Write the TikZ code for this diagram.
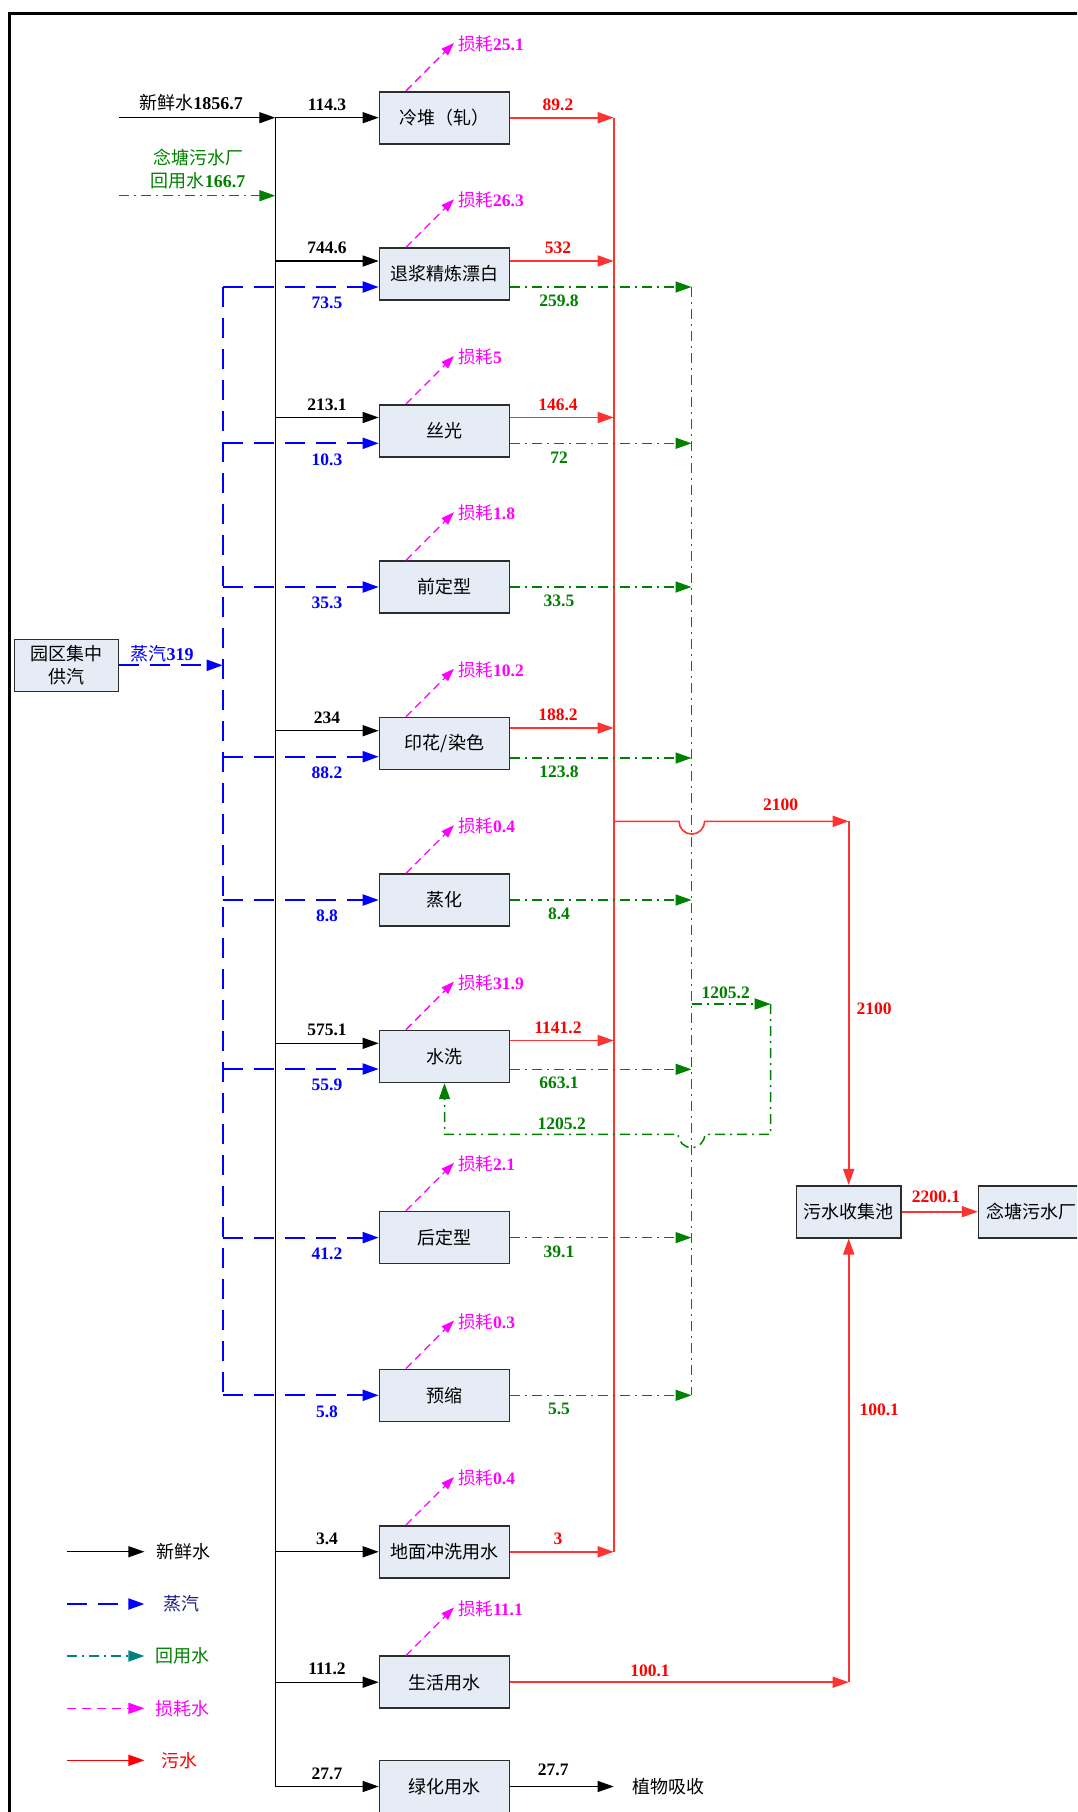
\documentclass[tikz,border=0pt]{standalone}
\usepackage{fontspec}
\setmainfont{Liberation Serif}
\newfontfamily\cjk{Noto Sans CJK SC}
\usetikzlibrary{arrows.meta,calc}
\definecolor{rd}{RGB}{255,0,0}
\definecolor{rl}{RGB}{255,50,50}
\definecolor{gr}{RGB}{0,128,0}
\definecolor{bl}{RGB}{0,0,255}
\definecolor{lbl}{RGB}{60,60,255}
\definecolor{mg}{RGB}{255,0,255}
\definecolor{tl}{RGB}{0,128,128}
\definecolor{nv}{RGB}{30,30,140}
\definecolor{bxf}{RGB}{230,236,246}
\definecolor{bxd}{RGB}{45,45,45}
\tikzset{
  tip/.style={-{Triangle[length=16pt,width=11pt]}},
  box/.style={draw=bxd, fill=bxf, line width=1.6pt, minimum width=130pt, minimum height=52pt, inner sep=0pt, align=center, font=\cjk\fontsize{18}{23}\selectfont},
  fw/.style={draw=black, line width=1.3pt, tip},
  st/.style={draw=bl, line width=2pt, dash pattern=on 20pt off 11pt, tip},
  rc/.style={draw=gr, line width=1.5pt, dash pattern=on 10pt off 5pt on 2pt off 5pt, tip},
  ww/.style={draw=rl, line width=1.6pt, tip},
  ls/.style={draw=mg, line width=1.3pt, dash pattern=on 8pt off 5pt, -{Triangle[length=13pt,width=9pt]}},
  num/.style={font=\bfseries\fontsize{17.5}{19}\selectfont},
  cn/.style={font=\cjk\fontsize{18}{22}\selectfont},
}
\newcommand{\lossl}[1]{{\cjk 损耗}\textbf{#1}}
\begin{document}
\begin{tikzpicture}[x=1pt,y=-1pt]
\useasboundingbox (0,0) rectangle (1077,1812);
\clip (0,0) rectangle (1077,1812);
% frame
\coordinate (fr1) at (9.6,1830);
\coordinate (fr2) at (9.6,13.3);
\coordinate (fr3) at (1100,13.3);
\draw[line width=3pt] (fr1) -- (fr2) -- (fr3);

% process boxes
\node[box] (b1) at (444.5,117.7) {冷堆（轧）};
\node[box] (b2) at (444.5,274.0) {退浆精炼漂白};
\node[box] (b3) at (444.5,430.8) {丝光};
\node[box] (b4) at (444.5,587.0) {前定型};
\node[box] (b5) at (444.5,743.5) {印花/染色};
\node[box] (b6) at (444.5,900.0) {蒸化};
\node[box] (b7) at (444.5,1056.4) {水洗};
\node[box] (b8) at (444.5,1237.6) {后定型};
\node[box] (b9) at (444.5,1395.3) {预缩};
\node[box] (b10) at (444.5,1551.8) {地面冲洗用水};
\node[box] (b11) at (444.5,1682.2) {生活用水};
\node[box] (b12) at (444.5,1786.5) {绿化用水};
\node[box, minimum width=104pt] (s) at (66.3,665.3) {园区集中\\供汽};
\node[box, minimum width=104.7pt] (p) at (848.7,1211.7) {污水收集池};
\node[box, minimum width=104.7pt] (n) at (1031,1211.7) {念塘污水厂};

% fresh water trunk
\coordinate (ttop) at (275.3,117.7);
\coordinate (tbot) at (275.3,1786.5);
\coordinate (fwin) at (119,117.7);
\draw[line width=1.3pt] (ttop) -- (tbot);
\draw[fw] (fwin) -- (ttop);
\draw[fw] (ttop) -- (b1.west);
\node[font=\fontsize{18}{20}\selectfont] (fwl) at (191,102.3) {{\cjk 新鲜水}\textbf{1856.7}};
% recycled input
\coordinate (rwin) at (119,195.7);
\coordinate (rwend) at (275.3,195.7);
\draw[rc] (rwin) -- (rwend);
\node[text=gr, font=\fontsize{18}{20}\selectfont] (rwl1) at (198,157.3) {\cjk 念塘污水厂};
\node[text=gr, font=\fontsize{18}{20}\selectfont] (rwl2) at (198,180.7) {{\cjk 回用水}\textbf{166.7}};

% black branches
\foreach \b/\y/\v in {b2/261/744.6, b3/417.5/213.1, b5/730.7/234, b7/1043.3/575.1, b10/1551.8/3.4, b11/1682.2/111.2, b12/1786.5/27.7}{
  \coordinate (k\b) at (275.3,\y);
  \draw[fw] (k\b) -- (k\b -| \b.west);
  \node[num] (kl\b) at (327,\y-13) {\v};
}
\node[num] (klb1) at (327,104.7) {114.3};

% steam
\coordinate (stop) at (222.7,287);
\coordinate (sbot) at (222.7,1395.3);
\coordinate (sin) at (222.7,665.3);
\draw[st,-] (stop) -- (sbot);
\draw[st] (s.east) -- (sin);
\node[text=bl, font=\fontsize{18}{20}\selectfont] (sl) at (162,654) {{\cjk 蒸汽}\textbf{319}};
\foreach \b/\y/\v in {b2/287/73.5, b3/443.3/10.3, b4/587/35.3, b5/756.7/88.2, b6/900/8.8, b7/1069/55.9, b8/1237.6/41.2, b9/1395.3/5.8}{
  \coordinate (s\b) at (222.7,\y);
  \draw[st] (s\b) -- (s\b -| \b.west);
  \node[num, text=bl] (sl\b) at (327,\y+16) {\v};
}

% waste water collector
\coordinate (rtop) at (613.7,117.7);
\coordinate (rbot) at (613.7,1551.8);
\draw[draw=rl, line width=1.6pt] (rtop) -- (rbot);
\foreach \b/\y/\v in {b1/117.7/89.2, b2/261/532, b3/417.5/146.4, b5/728/188.2, b7/1040.5/1141.2, b10/1551.8/3}{
  \coordinate (r\b) at (613.7,\y);
  \draw[ww] (r\b -| \b.east) -- (r\b);
  \node[num, text=rd] (rl\b) at (558,\y-13) {\v};
}

% recycled collector
\coordinate (gtop) at (691.5,287);
\coordinate (gbot) at (691.5,1395.3);
\draw[draw=gr, line width=1.5pt, dash pattern=on 10pt off 5pt on 2pt off 5pt] (gtop) -- (gbot);
\foreach \b/\y/\v in {b2/287/259.8, b3/443.3/72, b4/587/33.5, b5/758/123.8, b6/900/8.4, b7/1069.3/663.1, b8/1237.6/39.1, b9/1395.3/5.5}{
  \coordinate (g\b) at (691.5,\y);
  \draw[rc] (g\b -| \b.east) -- (g\b);
  \node[num, text=gr] (gl\b) at (559,\y+14) {\v};
}

% 2100 line with jump
\coordinate (r21a) at (613.7,821.3);
\coordinate (r21b) at (848.7,821.3);
\draw[ww] (r21a) -- (679,821.3) arc[start angle=180, end angle=0, radius=12.8] -- (r21b);
\draw[ww] (r21b) -- (p.north);
\node[num, text=rd] (l21a) at (780.7,805) {2100};
\node[num, text=rd] (l21b) at (874,1009) {2100};

% loop 1205.2
\coordinate (ga) at (691.5,1004);
\coordinate (gb) at (770.7,1004);
\coordinate (gc) at (770.7,1134.3);
\coordinate (gd) at (444.5,1134.3);
\draw[rc] (ga) -- (gb);
\draw[rc] (gb) -- (gc) -- (704.8,1134.3) arc[start angle=0, end angle=180, radius=13.3] -- (gd) -- (b7.south);
\node[num, text=gr] (lg1) at (725.7,992.7) {1205.2};
\node[num, text=gr] (lg2) at (561.7,1124) {1205.2};

% to plant
\draw[ww] (p.east) -- (n.west);
\node[num, text=rd] (l22) at (936,1196.7) {2200.1};

% domestic sewage
\coordinate (dw) at (848.7,1682.2);
\draw[ww] (b11.east) -- (dw);
\draw[ww] (dw) -- (p.south);
\node[num, text=rd] (ld1) at (650,1671) {100.1};
\node[num, text=rd] (ld2) at (879.3,1410) {100.1};

% greening
\coordinate (pl) at (613.7,1786.5);
\draw[fw] (b12.east) -- (pl);
\node[num] (lpl) at (553.3,1770) {27.7};
\node[cn] (plt) at (668.3,1786.5) {植物吸收};

% losses
\foreach \b/\v in {b1/25.1, b2/26.3, b3/5, b4/1.8, b5/10.2, b6/0.4, b7/31.9, b8/2.1, b9/0.3, b10/0.4, b11/11.1}{
  \coordinate (la\b) at ($(\b.north)+(-38.5,0)$);
  \coordinate (lb\b) at ($(la\b)+(48,-48)$);
  \draw[ls] (la\b) -- (lb\b);
  \node[anchor=west, text=mg, inner sep=0pt, font=\fontsize{17.5}{19}\selectfont] (lt\b) at ($(lb\b)+(4,1)$) {\lossl{\v}};
}

% legend
\foreach \i/\y in {1/1551.7, 2/1604, 3/1656, 4/1708.3, 5/1760.3}{
  \coordinate (lga\i) at (66.8,\y);
  \coordinate (lgb\i) at (144.4,\y);
}
\draw[fw] (lga1) -- (lgb1);
\draw[draw=lbl, line width=2pt, dash pattern=on 20pt off 11pt, -{Triangle[length=16pt,width=11pt]}, bl] (lga2) -- (lgb2);
\draw[draw=tl, line width=1.5pt, dash pattern=on 10pt off 5pt on 2pt off 5pt, -{Triangle[length=16pt,width=11pt]}, tl] (lga3) -- (lgb3);
\draw[draw=mg, line width=1.4pt, dash pattern=on 9pt off 6pt, -{Triangle[length=16pt,width=11pt]}] (lga4) -- (lgb4);
\draw[ww, draw=rd] (lga5) -- (lgb5);
\node[cn] (lg1t) at (183.5,1551.7) {新鲜水};
\node[cn, text=nv] (lg2t) at (181,1604) {蒸汽};
\node[cn, text=gr] (lg3t) at (182,1656) {回用水};
\node[cn, text=mg] (lg4t) at (182,1708.3) {损耗水};
\node[cn, text=rd] (lg5t) at (179,1760.3) {污水};
\end{tikzpicture}
\end{document}
